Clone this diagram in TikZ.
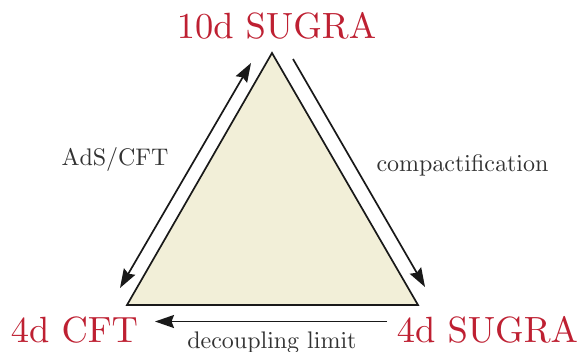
\documentclass[tikz,border=0pt]{standalone}
\usetikzlibrary{arrows.meta}
\definecolor{labred}{RGB}{190,32,50}
\definecolor{tribeige}{RGB}{242,239,216}
\definecolor{txtgray}{RGB}{50,50,50}
\font\labbigfont=cmr10 at 36.5pt
\font\labsmallfont=cmr10 at 24pt
\tikzset{
  biglabel/.style={text=labred, font=\labbigfont, inner sep=0pt, anchor=base},
  smalllabel/.style={text=txtgray, font=\labsmallfont, inner sep=0pt, anchor=base},
  edge/.style={draw=black!90, line width=1.7pt, line join=miter},
  tip/.tip={Stealth[length=19pt,width=13pt,inset=2.5pt]},
  conn/.style={draw=black!90, line width=1.7pt, -tip},
}
\begin{document}
\begin{tikzpicture}[x=1pt,y=-1pt]
\useasboundingbox (0,0) rectangle (580,351);
% triangle
\coordinate (vt) at (272,53);
\coordinate (vl) at (127,305);
\coordinate (vr) at (418,305);
\filldraw[edge, fill=tribeige] (vt) -- (vl) -- (vr) -- cycle;
% labels
\node[biglabel] (top) at (276.5,38) {10d SUGRA};
\node[biglabel] (cft) at (74.5,342) {4d CFT};
\node[biglabel] (sugra) at (487.5,342) {4d SUGRA};
\node[smalllabel] (ads) at (115,165) {AdS/CFT};
\node[smalllabel] (comp) at (462.5,171.5) {compactification};
\node[smalllabel] (dec) at (272,348.5) {decoupling limit};
% arrows
\coordinate (la) at (251,63);
\coordinate (lb) at (120,288);
\coordinate (ra) at (293,59);
\coordinate (rb) at (425,287);
\coordinate (ba) at (387,321.5);
\coordinate (bb) at (155,321.5);
\draw[conn, tip-tip] (la) -- (lb);
\draw[conn] (ra) -- (rb);
\draw[conn] (ba) -- (bb);
\end{tikzpicture}
\end{document}
